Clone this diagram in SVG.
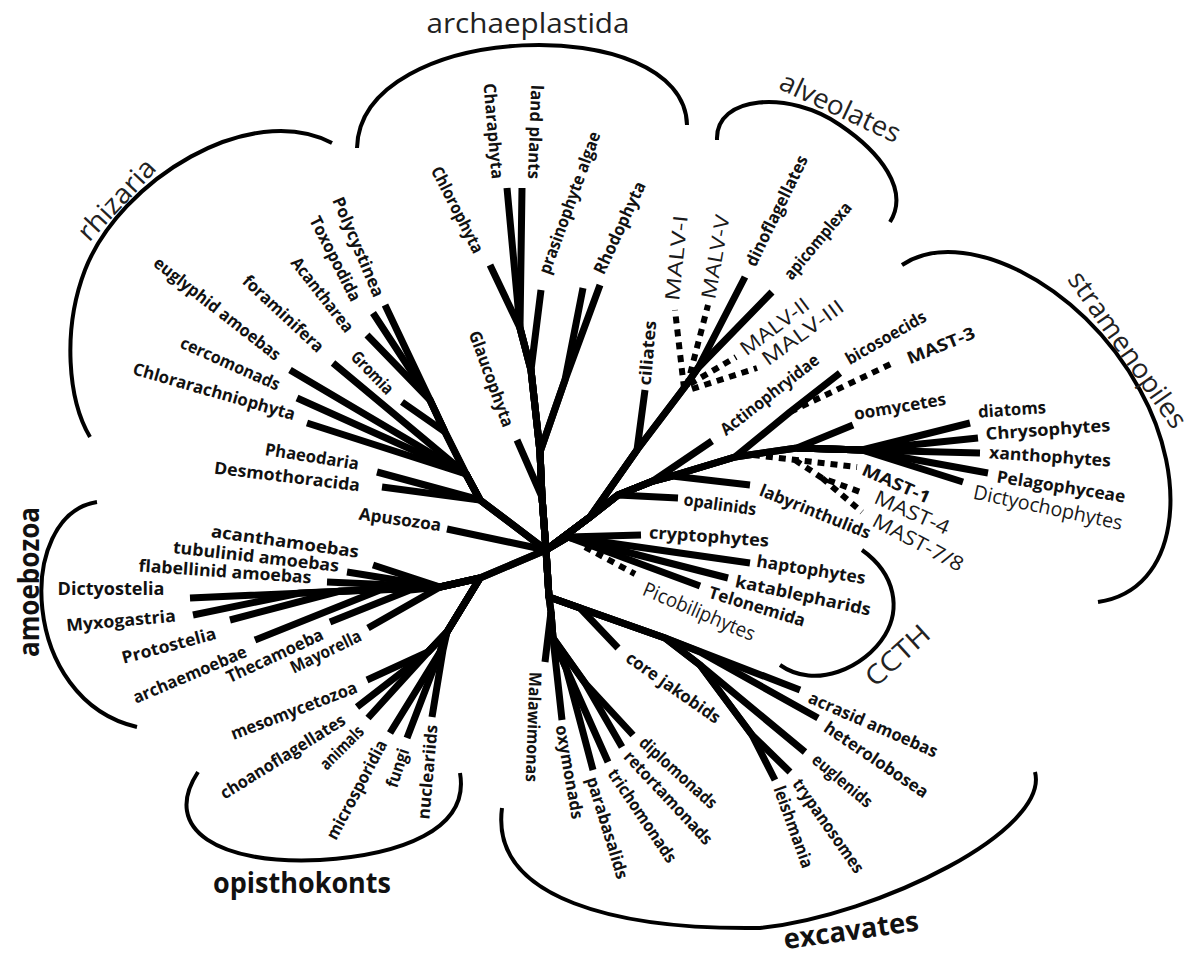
<svg xmlns="http://www.w3.org/2000/svg" width="1198" height="955" viewBox="0 0 1198 955">
<style>
.e{fill:none;stroke:#000;stroke-width:7;stroke-linejoin:round;stroke-linecap:butt}
.d{fill:none;stroke:#000;stroke-width:6;stroke-dasharray:7 6}
.a{fill:none;stroke:#000;stroke-width:4;stroke-linecap:butt}
.t{font-family:"Open Sans",sans-serif;font-size:17px;font-weight:700;fill:#111;text-anchor:middle}
.r{font-size:20px;font-weight:500;fill:#1a1a1a}
.g{font-family:"Open Sans",sans-serif;font-size:27px;font-weight:500;fill:#222;text-anchor:middle}
.gb{font-family:"Open Sans",sans-serif;font-size:28px;font-weight:700;fill:#111;text-anchor:middle}
</style>
<rect width="1198" height="955" fill="#fff"/>
<g id="connectors">
<path class="e" d="M546,550 L542,497 L517,440"/>
<path class="e" d="M546,550 L542,497 L540,452 L565,380 L600,285"/>
<path class="e" d="M546,550 L542,497 L540,452 L565,380 L583,288"/>
<path class="e" d="M546,550 L542,497 L540,452 L531,370 L541,290"/>
<path class="e" d="M546,550 L542,497 L540,452 L531,370 L520,328 L490,265"/>
<path class="e" d="M546,550 L542,497 L540,452 L531,370 L520,328 L507,188"/>
<path class="e" d="M546,550 L542,497 L540,452 L531,370 L520,328 L522,188"/>
<path class="e" d="M546,550 L590,517 L637,450 L645,390"/>
<path class="e" d="M546,550 L590,517 L637,450 L684,388 L698,368 L745,277"/>
<path class="e" d="M546,550 L590,517 L637,450 L684,388 L698,368 L772,292"/>
<path class="d" d="M684,388 L675,310"/>
<path class="d" d="M687,386 L708,305"/>
<path class="d" d="M690,384 L736,357"/>
<path class="d" d="M692,389 L757,368"/>
<path class="e" d="M546,550 L590,517 L618,495 L678,498"/>
<path class="e" d="M546,550 L590,517 L618,495 L653,481 L712,441"/>
<path class="e" d="M546,550 L590,517 L618,495 L653,481 L672,476 L750,485"/>
<path class="e" d="M546,550 L590,517 L618,495 L653,481 L672,476 L735,457 L790,412 L840,373"/>
<path class="e" d="M546,550 L590,517 L618,495 L653,481 L672,476 L735,457 L797,448 L853,425"/>
<path class="e" d="M546,550 L590,517 L618,495 L653,481 L672,476 L735,457 L797,448 L862,450 L970,423"/>
<path class="e" d="M797,448 L862,450 L978,438"/>
<path class="e" d="M797,448 L862,450 L980,453"/>
<path class="e" d="M797,448 L862,450 L988,473"/>
<path class="e" d="M797,448 L862,450 L963,482"/>
<path class="d" d="M790,412 L893,363"/>
<path class="d" d="M753,455 L857,467"/>
<path class="d" d="M795,460 L822,478 L863,493 M822,478 L862,512"/>
<path class="e" d="M546,550 L568,537 L641,535"/>
<path class="e" d="M546,550 L568,537 L750,563"/>
<path class="e" d="M546,550 L568,537 L728,578"/>
<path class="e" d="M546,550 L568,537 L700,586"/>
<path class="d" d="M585,547 L635,574"/>
<path class="e" d="M546,550 L549,597 L580,608 L618,648"/>
<path class="e" d="M546,550 L549,597 L580,608 L665,638 L800,690"/>
<path class="e" d="M546,550 L549,597 L580,608 L665,638 L700,652 L818,718"/>
<path class="e" d="M546,550 L549,597 L580,608 L665,638 L700,665 L805,752"/>
<path class="e" d="M665,638 L700,665 L752,735 L775,780"/>
<path class="e" d="M700,665 L752,735 L790,772"/>
<path class="e" d="M546,550 L549,597 L551,612 L545,662"/>
<path class="e" d="M546,550 L549,597 L551,612 L553,638 L562,720"/>
<path class="e" d="M551,612 L553,638 L566,668 L593,770"/>
<path class="e" d="M553,638 L566,668 L608,762"/>
<path class="e" d="M551,612 L553,638 L585,683 L622,747"/>
<path class="e" d="M553,638 L585,683 L633,735"/>
<path class="e" d="M546,550 L480,578 L440,587 L190,598"/>
<path class="e" d="M440,587 L300,593 L193,615"/>
<path class="e" d="M440,587 L340,591 L230,620"/>
<path class="e" d="M440,587 L380,590 L255,640"/>
<path class="e" d="M440,587 L410,590 L330,622"/>
<path class="e" d="M480,578 L440,587 L368,628"/>
<path class="e" d="M480,578 L440,587 L373,565"/>
<path class="e" d="M480,578 L440,587 L347,572"/>
<path class="e" d="M480,578 L440,587 L327,582"/>
<path class="e" d="M546,550 L480,578 L447,632 L428,652 L367,680"/>
<path class="e" d="M480,578 L447,632 L428,652 L357,707"/>
<path class="e" d="M480,578 L447,632 L428,652 L368,718"/>
<path class="e" d="M480,578 L447,632 L440,652 L390,733"/>
<path class="e" d="M480,578 L447,632 L440,652 L407,738"/>
<path class="e" d="M480,578 L447,632 L443,650 L432,717"/>
<path class="e" d="M546,550 L447,529"/>
<path class="e" d="M546,550 L480,500 L377,472"/>
<path class="e" d="M546,550 L480,500 L382,487"/>
<path class="e" d="M546,550 L480,500 L466,474 L290,370"/>
<path class="e" d="M480,500 L466,474 L297,398"/>
<path class="e" d="M480,500 L466,474 L307,423"/>
<path class="e" d="M480,500 L466,474 L333,363"/>
<path class="e" d="M480,500 L466,474 L445,432 L402,402"/>
<path class="e" d="M480,500 L466,474 L445,432 L430,400 L385,305"/>
<path class="e" d="M445,432 L430,400 L373,313"/>
<path class="e" d="M445,432 L430,400 L367,335"/>
</g>
<g id="clade-archaeplastida">
<path class="a" d="M357,148 C360,20 685,10 687,125"/>
<text class="g" x="528" y="33" textLength="203" lengthAdjust="spacingAndGlyphs">archaeplastida</text>
<g id="n-charaphyta"><text class="t" dy="0.32em" textLength="96" lengthAdjust="spacingAndGlyphs" transform="translate(493 131) rotate(85)">Charaphyta</text></g>
<g id="n-landplants"><text class="t" dy="0.32em" textLength="94" lengthAdjust="spacingAndGlyphs" transform="translate(535 132) rotate(92)">land plants</text></g>
<g id="n-chlorophyta"><text class="t" dy="0.32em" textLength="95" lengthAdjust="spacingAndGlyphs" transform="translate(457 210) rotate(63)">Chlorophyta</text></g>
<g id="n-prasinophyte"><text class="t" dy="0.32em" textLength="150" lengthAdjust="spacingAndGlyphs" transform="translate(570 203) rotate(-70)">prasinophyte algae</text></g>
<g id="n-rhodophyta"><text class="t" dy="0.32em" textLength="100" lengthAdjust="spacingAndGlyphs" transform="translate(620 228) rotate(-65)">Rhodophyta</text></g>
<g id="n-glaucophyta"><text class="t" dy="0.32em" textLength="101" lengthAdjust="spacingAndGlyphs" transform="translate(491 379) rotate(70)">Glaucophyta</text></g>
</g>
<g id="clade-alveolates">
<path class="a" d="M717,140 C715,95 790,90 840,125 C880,152 910,190 890,222"/>
<text class="g" dy="0.32em" textLength="130" lengthAdjust="spacingAndGlyphs" transform="translate(840 108) rotate(25)">alveolates</text>
<g id="n-ciliates"><text class="t" dy="0.32em" textLength="65" lengthAdjust="spacingAndGlyphs" transform="translate(648 353) rotate(-85)">ciliates</text></g>
<g id="n-malv1"><text class="t r" dy="0.32em" textLength="86" lengthAdjust="spacingAndGlyphs" transform="translate(677 258) rotate(-84)">MALV-I</text></g>
<g id="n-malv5"><text class="t r" dy="0.32em" textLength="85" lengthAdjust="spacingAndGlyphs" transform="translate(716 257) rotate(-80)">MALV-V</text></g>
<g id="n-dinoflagellates"><text class="t" dy="0.32em" textLength="121" lengthAdjust="spacingAndGlyphs" transform="translate(777 211) rotate(-64)">dinoflagellates</text></g>
<g id="n-apicomplexa"><text class="t" dy="0.32em" textLength="95" lengthAdjust="spacingAndGlyphs" transform="translate(818 241) rotate(-50)">apicomplexa</text></g>
<g id="n-malv2"><text class="t r" dy="0.32em" textLength="81" lengthAdjust="spacingAndGlyphs" transform="translate(775 327) rotate(-37)">MALV-II</text></g>
<g id="n-malv3"><text class="t r" dy="0.32em" textLength="96" lengthAdjust="spacingAndGlyphs" transform="translate(803 333) rotate(-36)">MALV-III</text></g>
</g>
<g id="clade-stramenopiles">
<path class="a" d="M902,265 C960,225 1080,280 1140,390 C1190,480 1180,590 1098,602"/>
<text class="g" dy="0.32em" textLength="185" lengthAdjust="spacingAndGlyphs" transform="translate(1127 350) rotate(55)">stramenopiles</text>
<g id="n-actinophryidae"><text class="t" dy="0.32em" textLength="120" lengthAdjust="spacingAndGlyphs" transform="translate(770 395) rotate(-38)">Actinophryidae</text></g>
<g id="n-bicosoecids"><text class="t" dy="0.32em" textLength="90" lengthAdjust="spacingAndGlyphs" transform="translate(886 338) rotate(-30)">bicosoecids</text></g>
<g id="n-mast3"><text class="t" dy="0.32em" textLength="72" lengthAdjust="spacingAndGlyphs" transform="translate(941 346) rotate(-22)">MAST-3</text></g>
<g id="n-oomycetes"><text class="t" dy="0.32em" textLength="93" lengthAdjust="spacingAndGlyphs" transform="translate(900 407) rotate(-9.5)">oomycetes</text></g>
<g id="n-diatoms"><text class="t" dy="0.32em" textLength="68" lengthAdjust="spacingAndGlyphs" transform="translate(1012 410) rotate(-4)">diatoms</text></g>
<g id="n-chrysophytes"><text class="t" dy="0.32em" textLength="125" lengthAdjust="spacingAndGlyphs" transform="translate(1048 430) rotate(-4)">Chrysophytes</text></g>
<g id="n-xanthophytes"><text class="t" dy="0.32em" textLength="122" lengthAdjust="spacingAndGlyphs" transform="translate(1050 457) rotate(4)">xanthophytes</text></g>
<g id="n-pelagophyceae"><text class="t" dy="0.32em" textLength="130" lengthAdjust="spacingAndGlyphs" transform="translate(1061 487) rotate(9)">Pelagophyceae</text></g>
<g id="n-dictyochophytes"><text class="t r" dy="0.32em" textLength="152" lengthAdjust="spacingAndGlyphs" transform="translate(1048 508) rotate(12)">Dictyochophytes</text></g>
<g id="n-mast1"><text class="t" dy="0.32em" textLength="73" lengthAdjust="spacingAndGlyphs" transform="translate(896 484) rotate(24)">MAST-1</text></g>
<g id="n-mast4"><text class="t r" dy="0.32em" textLength="80" lengthAdjust="spacingAndGlyphs" transform="translate(912 513) rotate(24)">MAST-4</text></g>
<g id="n-mast78"><text class="t r" dy="0.32em" textLength="100" lengthAdjust="spacingAndGlyphs" transform="translate(918 543) rotate(28)">MAST-7/8</text></g>
<g id="n-labyrinthulids"><text class="t" dy="0.32em" textLength="118" lengthAdjust="spacingAndGlyphs" transform="translate(815 512) rotate(22)">labyrinthulids</text></g>
<g id="n-opalinids"><text class="t" dy="0.32em" textLength="73" lengthAdjust="spacingAndGlyphs" transform="translate(720 505) rotate(8)">opalinids</text></g>
</g>
<g id="clade-ccth">
<path class="a" d="M862,550 C897,575 900,610 885,635 C865,668 815,690 780,665"/>
<text class="g" dy="0.32em" textLength="77" lengthAdjust="spacingAndGlyphs" transform="translate(898 656) rotate(-42)">CCTH</text>
<g id="n-cryptophytes"><text class="t" dy="0.32em" textLength="120" lengthAdjust="spacingAndGlyphs" transform="translate(709 537) rotate(4)">cryptophytes</text></g>
<g id="n-haptophytes"><text class="t" dy="0.32em" textLength="110" lengthAdjust="spacingAndGlyphs" transform="translate(811 570) rotate(9)">haptophytes</text></g>
<g id="n-katablepharids"><text class="t" dy="0.32em" textLength="138" lengthAdjust="spacingAndGlyphs" transform="translate(803 596) rotate(12)">katablepharids</text></g>
<g id="n-telonemida"><text class="t" dy="0.32em" textLength="100" lengthAdjust="spacingAndGlyphs" transform="translate(757 607) rotate(17)">Telonemida</text></g>
<g id="n-picobiliphytes"><text class="t r" dy="0.32em" textLength="120" lengthAdjust="spacingAndGlyphs" transform="translate(699 612) rotate(23)">Picobiliphytes</text></g>
</g>
<g id="clade-excavates">
<path class="a" d="M502,808 C490,900 620,930 760,928 C880,915 1050,830 1035,772"/>
<text class="gb" dy="0.32em" textLength="136" lengthAdjust="spacingAndGlyphs" transform="translate(851 931) rotate(-8)">excavates</text>
<g id="n-corejakobids"><text class="t" dy="0.32em" textLength="111" lengthAdjust="spacingAndGlyphs" transform="translate(673 688) rotate(35)">core jakobids</text></g>
<g id="n-acrasid"><text class="t" dy="0.32em" textLength="139" lengthAdjust="spacingAndGlyphs" transform="translate(873 725) rotate(23.5)">acrasid amoebas</text></g>
<g id="n-heterolobosea"><text class="t" dy="0.32em" textLength="122" lengthAdjust="spacingAndGlyphs" transform="translate(876 760) rotate(34)">heterolobosea</text></g>
<g id="n-euglenids"><text class="t" dy="0.32em" textLength="73" lengthAdjust="spacingAndGlyphs" transform="translate(842 781) rotate(40)">euglenids</text></g>
<g id="n-trypanosomes"><text class="t" dy="0.32em" textLength="111" lengthAdjust="spacingAndGlyphs" transform="translate(828 826) rotate(55)">trypanosomes</text></g>
<g id="n-leishmania"><text class="t" dy="0.32em" textLength="86" lengthAdjust="spacingAndGlyphs" transform="translate(793 827) rotate(70)">leishmania</text></g>
<g id="n-diplomonads"><text class="t" dy="0.32em" textLength="98" lengthAdjust="spacingAndGlyphs" transform="translate(678 773) rotate(42)">diplomonads</text></g>
<g id="n-retortamonads"><text class="t" dy="0.32em" textLength="121" lengthAdjust="spacingAndGlyphs" transform="translate(668 798) rotate(47)">retortamonads</text></g>
<g id="n-trichomonads"><text class="t" dy="0.32em" textLength="109" lengthAdjust="spacingAndGlyphs" transform="translate(642 816) rotate(56)">trichomonads</text></g>
<g id="n-parabasalids"><text class="t" dy="0.32em" textLength="106" lengthAdjust="spacingAndGlyphs" transform="translate(607 828) rotate(73)">parabasalids</text></g>
<g id="n-oxymonads"><text class="t" dy="0.32em" textLength="95" lengthAdjust="spacingAndGlyphs" transform="translate(569 772) rotate(80)">oxymonads</text></g>
<g id="n-malawimonas"><text class="t" dy="0.32em" textLength="110" lengthAdjust="spacingAndGlyphs" transform="translate(533 727) rotate(92)">Malawimonas</text></g>
</g>
<g id="clade-opisthokonts">
<path class="a" d="M198,772 C160,830 220,865 320,860 C400,855 470,830 460,773"/>
<text class="gb" x="302" y="893" textLength="178" lengthAdjust="spacingAndGlyphs">opisthokonts</text>
<g id="n-nucleariids"><text class="t" dy="0.32em" textLength="95" lengthAdjust="spacingAndGlyphs" transform="translate(428 772) rotate(-85)">nucleariids</text></g>
<g id="n-fungi"><text class="t" dy="0.32em" textLength="40" lengthAdjust="spacingAndGlyphs" transform="translate(398 768) rotate(-72)">fungi</text></g>
<g id="n-microsporidia"><text class="t" dy="0.32em" textLength="110" lengthAdjust="spacingAndGlyphs" transform="translate(357 790) rotate(-62)">microsporidia</text></g>
<g id="n-animals"><text class="t" dy="0.32em" textLength="54" lengthAdjust="spacingAndGlyphs" transform="translate(342 748) rotate(-45)">animals</text></g>
<g id="n-choanoflagellates"><text class="t" dy="0.32em" textLength="144" lengthAdjust="spacingAndGlyphs" transform="translate(283 757) rotate(-32)">choanoflagellates</text></g>
<g id="n-mesomycetozoa"><text class="t" dy="0.32em" textLength="134" lengthAdjust="spacingAndGlyphs" transform="translate(294 711) rotate(-21)">mesomycetozoa</text></g>
</g>
<g id="clade-amoebozoa">
<path class="a" d="M97,502 C15,515 20,700 137,727"/>
<text class="gb" dy="0.32em" textLength="150" lengthAdjust="spacingAndGlyphs" transform="translate(30 582) rotate(-90)">amoebozoa</text>
<g id="n-mayorella"><text class="t" dy="0.32em" textLength="77" lengthAdjust="spacingAndGlyphs" transform="translate(326 652) rotate(-26)">Mayorella</text></g>
<g id="n-thecamoeba"><text class="t" dy="0.32em" textLength="105" lengthAdjust="spacingAndGlyphs" transform="translate(275 656) rotate(-25)">Thecamoeba</text></g>
<g id="n-archaemoebae"><text class="t" dy="0.32em" textLength="122" lengthAdjust="spacingAndGlyphs" transform="translate(190 675) rotate(-23)">archaemoebae</text></g>
<g id="n-protostelia"><text class="t" dy="0.32em" textLength="97" lengthAdjust="spacingAndGlyphs" transform="translate(169 646) rotate(-15)">Protostelia</text></g>
<g id="n-myxogastria"><text class="t" dy="0.32em" textLength="110" lengthAdjust="spacingAndGlyphs" transform="translate(121 621) rotate(-5)">Myxogastria</text></g>
<g id="n-dictyostelia"><text class="t" dy="0.32em" textLength="107" lengthAdjust="spacingAndGlyphs" transform="translate(111 590)">Dictyostelia</text></g>
<g id="n-flabellinid"><text class="t" dy="0.32em" textLength="173" lengthAdjust="spacingAndGlyphs" transform="translate(225 572) rotate(4)">flabellinid amoebas</text></g>
<g id="n-tubulinid"><text class="t" dy="0.32em" textLength="167" lengthAdjust="spacingAndGlyphs" transform="translate(256 557) rotate(6.5)">tubulinid amoebas</text></g>
<g id="n-acanthamoebas"><text class="t" dy="0.32em" textLength="149" lengthAdjust="spacingAndGlyphs" transform="translate(285 542) rotate(8)">acanthamoebas</text></g>
</g>
<g id="n-apusozoa"><text class="t" dy="0.32em" textLength="83" lengthAdjust="spacingAndGlyphs" transform="translate(400 520) rotate(8)">Apusozoa</text></g>
<g id="clade-rhizaria">
<path class="a" d="M332,143 C250,100 120,180 85,270 C62,330 68,400 90,437"/>
<text class="g" dy="0.32em" textLength="101" lengthAdjust="spacingAndGlyphs" transform="translate(117 200) rotate(-47)">rhizaria</text>
<g id="n-desmothoracida"><text class="t" dy="0.32em" textLength="147" lengthAdjust="spacingAndGlyphs" transform="translate(287 477) rotate(7)">Desmothoracida</text></g>
<g id="n-phaeodaria"><text class="t" dy="0.32em" textLength="95" lengthAdjust="spacingAndGlyphs" transform="translate(312 457) rotate(9)">Phaeodaria</text></g>
<g id="n-chlorarachniophyta"><text class="t" dy="0.32em" textLength="168" lengthAdjust="spacingAndGlyphs" transform="translate(214 392) rotate(16)">Chlorarachniophyta</text></g>
<g id="n-cercomonads"><text class="t" dy="0.32em" textLength="107" lengthAdjust="spacingAndGlyphs" transform="translate(230 364) rotate(24)">cercomonads</text></g>
<g id="n-euglyphid"><text class="t" dy="0.32em" textLength="156" lengthAdjust="spacingAndGlyphs" transform="translate(217 309) rotate(38)">euglyphid amoebas</text></g>
<g id="n-foraminifera"><text class="t" dy="0.32em" textLength="104" lengthAdjust="spacingAndGlyphs" transform="translate(283 314) rotate(43)">foraminifera</text></g>
<g id="n-gromia"><text class="t" dy="0.32em" textLength="53" lengthAdjust="spacingAndGlyphs" transform="translate(372 373) rotate(46)">Gromia</text></g>
<g id="n-acantharea"><text class="t" dy="0.32em" textLength="90" lengthAdjust="spacingAndGlyphs" transform="translate(322 295) rotate(52)">Acantharea</text></g>
<g id="n-toxopodida"><text class="t" dy="0.32em" textLength="93" lengthAdjust="spacingAndGlyphs" transform="translate(335 259) rotate(63)">Toxopodida</text></g>
<g id="n-polycystinea"><text class="t" dy="0.32em" textLength="107" lengthAdjust="spacingAndGlyphs" transform="translate(358 247) rotate(67)">Polycystinea</text></g>
</g>
</svg>
